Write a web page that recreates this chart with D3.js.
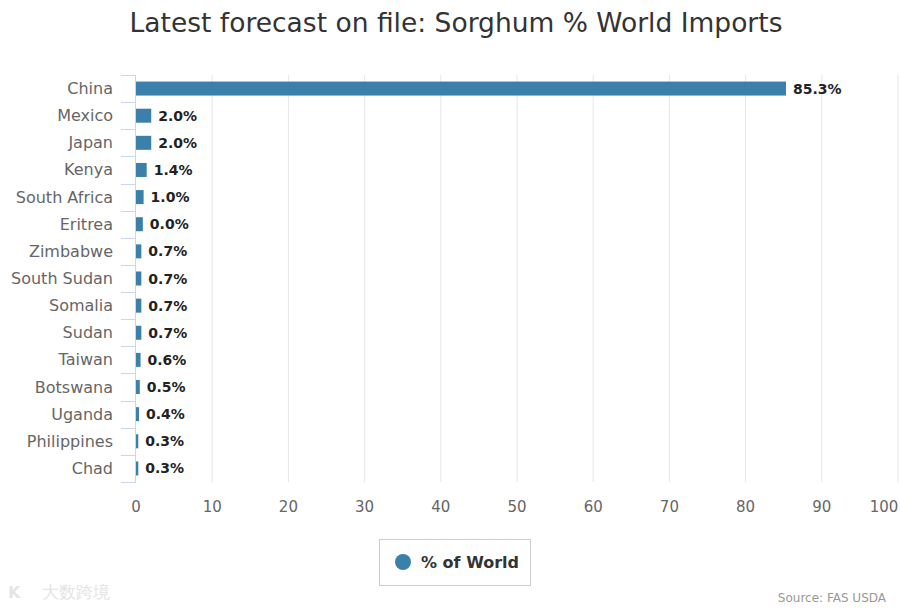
<!DOCTYPE html>
<html><head><meta charset="utf-8">
<script src="https://cdn.jsdelivr.net/npm/d3@7"></script>
<style>body{margin:0;background:#fff}svg{display:block}text{font-family:"DejaVu Sans",sans-serif}</style>
</head><body><svg id="c" width="900" height="608"></svg>
<script>
const categories = ["China","Mexico","Japan","Kenya","South Africa","Eritrea","Zimbabwe","South Sudan","Somalia","Sudan","Taiwan","Botswana","Uganda","Philippines","Chad"];
const values = [85.3,2.0,2.0,1.4,1.0,0.9,0.7,0.7,0.7,0.7,0.6,0.5,0.4,0.3,0.3];
const valueLabels = ["85.3%","2.0%","2.0%","1.4%","1.0%","0.0%","0.7%","0.7%","0.7%","0.7%","0.6%","0.5%","0.4%","0.3%","0.3%"];
const xTicks = [0,10,20,30,40,50,60,70,80,90,100];
const seriesName = "% of World";
const title = "Latest forecast on file: Sorghum % World Imports";
const source = "Source: FAS USDA";

const svg = d3.select("#c");
const color = "#3a80ab";
const pLeft = 136, pRight = 898, pTop = 75, pBottom = 482;
const x = d3.scaleLinear().domain([0,100]).range([pLeft,pRight]);
const y = d3.scaleBand().domain(categories).range([pTop,pBottom]);

svg.append("text").attr("x",456).attr("y",32).attr("text-anchor","middle")
  .attr("font-size",26.5).attr("fill","#333").text(title);

// gridlines
svg.append("g").selectAll("line").data(xTicks.slice(1)).join("line")
  .attr("x1",d=>x(d)).attr("x2",d=>x(d)).attr("y1",pTop).attr("y2",pBottom)
  .attr("stroke","#e6e6e6").attr("stroke-width",1);

// y axis line and ticks
const bounds = categories.map(c=>y(c)).concat([pBottom]);
svg.append("line").attr("x1",pLeft-0.5).attr("x2",pLeft-0.5).attr("y1",pTop).attr("y2",pBottom).attr("stroke","#ccd6eb");
svg.append("g").selectAll("line").data(bounds).join("line")
  .attr("x1",pLeft-15).attr("x2",pLeft).attr("y1",d=>Math.round(d)+0.5).attr("y2",d=>Math.round(d)+0.5)
  .attr("stroke","#ccd6eb");

// category labels
svg.append("g").selectAll("text").data(categories).join("text")
  .attr("x",113).attr("y",d=>y(d)+y.bandwidth()/2+5.5).attr("text-anchor","end")
  .attr("font-size",16).attr("fill","#666").text(d=>d);

// bars
svg.append("g").selectAll("rect").data(values).join("rect")
  .attr("x",x(0)).attr("y",(d,i)=>y(categories[i])+y.bandwidth()/2-7)
  .attr("width",d=>x(d)-x(0)).attr("height",14).attr("fill",color);

// data labels
svg.append("g").selectAll("text").data(values).join("text")
  .attr("x",d=>x(d)+7).attr("y",(d,i)=>y(categories[i])+y.bandwidth()/2+5)
  .attr("font-size",14).attr("font-weight","bold").attr("fill","#222")
  .text((d,i)=>valueLabels[i]);

// x tick labels
svg.append("g").selectAll("text").data(xTicks).join("text")
  .attr("x",d=>d===100?884:x(d)).attr("y",512).attr("text-anchor","middle")
  .attr("font-size",15).attr("fill","#666").text(d=>d);

// legend
svg.append("rect").attr("x",379.5).attr("y",539.5).attr("width",151).attr("height",46)
  .attr("fill","#fff").attr("stroke","#ccc");
svg.append("circle").attr("cx",403).attr("cy",562).attr("r",8).attr("fill",color);
svg.append("text").attr("x",421).attr("y",568).attr("font-size",16).attr("font-weight","bold")
  .attr("fill","#333").text(seriesName);

// source
svg.append("text").attr("x",886).attr("y",602).attr("text-anchor","end")
  .attr("font-size",12).attr("fill","#999").text(source);

// watermark
svg.append("text").attr("x",8).attr("y",598).attr("font-size",16).attr("fill","#e4e4e4")
  .attr("font-weight","bold").text("K");
svg.append("text").attr("x",42).attr("y",598).attr("font-size",17).attr("fill","#e4e4e4")
  .attr("font-family","Noto Sans CJK SC").text("大数跨境");
</script></body></html>
